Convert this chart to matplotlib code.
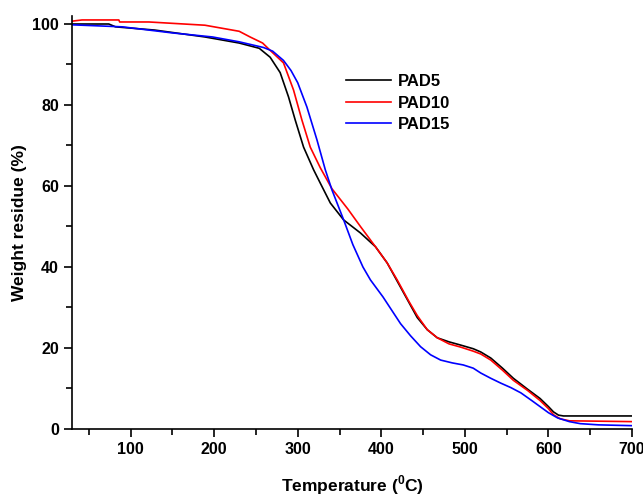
import matplotlib
matplotlib.use("Agg")
import matplotlib.pyplot as plt
from matplotlib.ticker import MultipleLocator

plt.rcParams['font.family'] = ['Liberation Sans', 'DejaVu Sans']
plt.rcParams['font.weight'] = 'bold'
plt.rcParams['mathtext.fontset'] = 'custom'
plt.rcParams['mathtext.rm'] = 'Liberation Sans:bold'
plt.rcParams['mathtext.bf'] = 'Liberation Sans:bold'

# PAD5 (black)
t5 = [30, 74, 82, 129, 189, 230, 254, 267, 279, 289, 297, 307, 319, 327, 339, 355,
      375, 393, 407, 423, 443, 455, 467, 481, 495, 510, 519, 531, 545, 558, 575, 590,
      600, 606, 612, 618, 700]
w5 = [100, 100, 99.3, 98.5, 96.8, 95.3, 94, 91.8, 88, 82, 76.3, 69.6, 64, 60.7, 55.8, 51.6,
      48.4, 45, 41, 35, 27.5, 24.5, 22.5, 21.5, 20.7, 19.8, 19, 17.5, 15, 12.5, 9.8, 7.5,
      5.5, 4.2, 3.4, 3.2, 3.2]

# PAD10 (red)
t10 = [30, 42, 86, 87, 122, 189, 230, 243, 258, 267, 283, 295, 305, 315, 327, 341,
       360, 375, 393, 407, 419, 433, 443, 455, 467, 481, 495, 510, 519, 531, 545, 558,
       575, 590, 600, 606, 614, 625, 700]
w10 = [100.7, 101, 101, 100.5, 100.5, 99.7, 98.2, 96.8, 95.3, 93.5, 90.4, 83.7, 76.3, 69.6, 64.5, 59.3,
       54.3, 50, 45, 41, 36.8, 31.5, 28, 24.5, 22.5, 21, 20.2, 19.2, 18.5, 17, 14.5, 12,
       9.5, 7, 5, 3.5, 2.5, 2, 1.8]

# PAD15 (blue)
t15 = [30, 90, 150, 198, 230, 259, 270, 283, 292, 300, 311, 323, 333, 341, 355, 366,
       378, 387, 402, 423, 435, 447, 459, 471, 485, 498, 510, 519, 531, 543, 555, 567,
       580, 590, 600, 611, 625, 638, 660, 700]
w15 = [99.8, 99.3, 97.8, 96.8, 95.6, 94.2, 93.3, 91, 88.5, 85.5, 79.5, 71.4, 64, 59, 51.6, 45.5,
       40, 36.8, 32.6, 26, 23, 20.3, 18.3, 17, 16.3, 15.8, 15, 13.8, 12.5, 11.3, 10.2, 8.9,
       7, 5.5, 4, 2.7, 1.8, 1.3, 1, 0.8]

fig = plt.figure(figsize=(6.43, 4.97), dpi=100)
ax = fig.add_axes([0.112, 0.137, 0.871, 0.831])

ax.plot(t5, w5, color='black', lw=1.2, label='PAD5')
ax.plot(t10, w10, color='#ff0000', lw=1.2, label='PAD10')
ax.plot(t15, w15, color='#0000ff', lw=1.2, label='PAD15')

ax.set_xlim(30, 700)
ax.set_ylim(0, 102)
ax.xaxis.set_major_locator(MultipleLocator(100))
ax.xaxis.set_minor_locator(MultipleLocator(50))
ax.yaxis.set_major_locator(MultipleLocator(20))
ax.yaxis.set_minor_locator(MultipleLocator(10))
ax.spines['top'].set_visible(False)
ax.spines['right'].set_visible(False)
for s in ('left', 'bottom'):
    ax.spines[s].set_linewidth(1.2)
ax.tick_params(which='major', direction='out', length=6, width=1.2, labelsize=11.5)
ax.tick_params(which='minor', direction='out', length=4, width=1.2)

ax.set_xlabel(r'Temperature ($^{0}$C)', fontsize=12.5, fontweight='bold', labelpad=12)
ax.set_ylabel('Weight residue (%)', fontsize=12.5, fontweight='bold', labelpad=4)

ax.legend(loc='upper left', bbox_to_anchor=(0.462, 0.895), frameon=False,
          prop={'weight': 'bold', 'size': 12}, handlelength=2.7,
          labelspacing=0.38, handletextpad=0.4)

fig.savefig('out.png', dpi=100)
